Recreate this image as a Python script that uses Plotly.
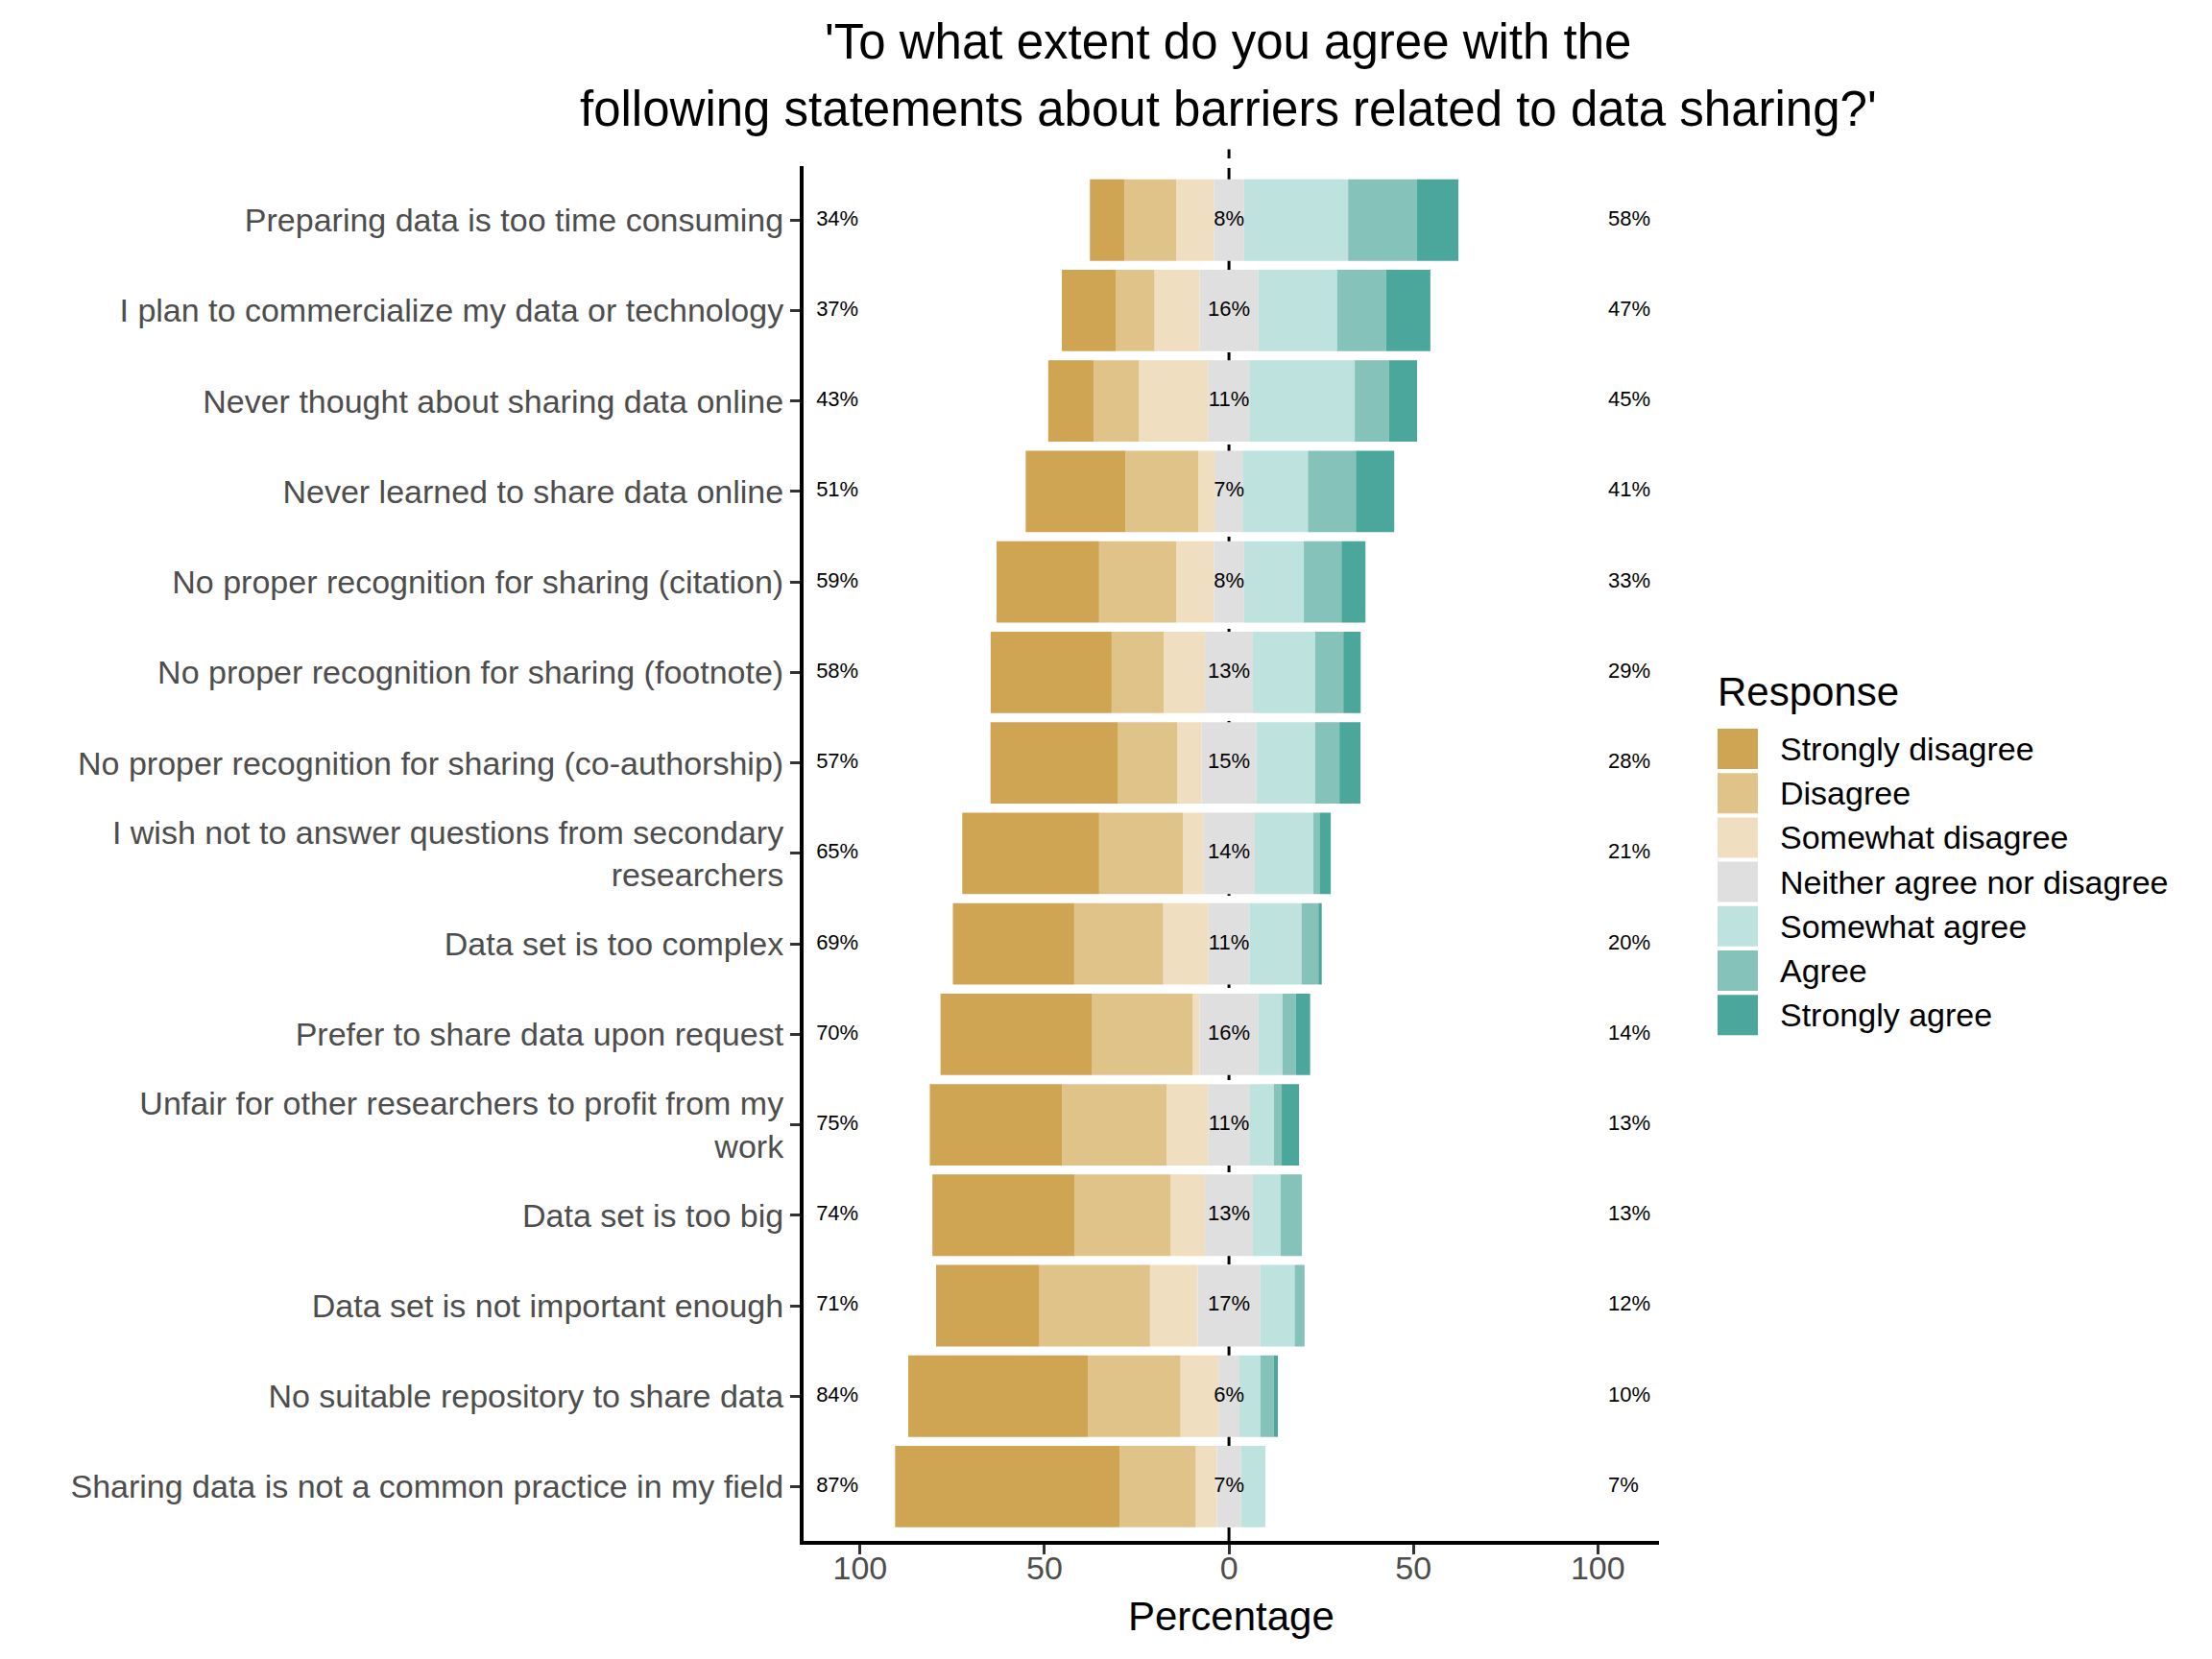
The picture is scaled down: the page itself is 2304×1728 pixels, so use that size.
import plotly.graph_objects as go

# survey statements, top to bottom
statements = [
    "Preparing data is too time consuming",
    "I plan to commercialize my data or technology",
    "Never thought about sharing data online",
    "Never learned to share data online",
    "No proper recognition for sharing (citation)",
    "No proper recognition for sharing (footnote)",
    "No proper recognition for sharing (co-authorship)",
    "I wish not to answer questions from secondary<br>researchers",
    "Data set is too complex",
    "Prefer to share data upon request",
    "Unfair for other researchers to profit from my<br>work",
    "Data set is too big",
    "Data set is not important enough",
    "No suitable repository to share data",
    "Sharing data is not a common practice in my field",
]

# percentages per response level
strongly_disagree = [9.3, 14.7, 12.4, 27.0, 27.8, 32.8, 34.6, 37.1, 32.9, 41.1, 35.9, 38.6, 28.0, 48.7, 60.9]
disagree = [14.1, 10.4, 12.2, 19.8, 20.9, 14.1, 16.0, 22.7, 24.1, 27.3, 28.3, 26.0, 30.0, 25.1, 20.6]
somewhat_disagree = [10.2, 12.2, 18.7, 4.6, 10.2, 11.2, 6.6, 5.5, 12.3, 1.8, 11.2, 9.3, 12.9, 10.3, 5.7]
neutral = [8.2, 16.0, 11.4, 7.4, 8.2, 13.0, 14.9, 14.0, 11.1, 16.0, 11.4, 13.0, 17.0, 5.7, 6.6]
somewhat_agree = [28.2, 21.3, 28.4, 17.7, 16.2, 16.9, 15.9, 15.9, 14.1, 6.5, 6.5, 7.5, 9.3, 5.7, 6.6]
agree = [18.7, 13.3, 9.3, 13.0, 10.2, 7.6, 6.6, 1.8, 4.6, 3.6, 2.1, 5.8, 2.7, 3.6, 0.0]
strongly_agree = [11.2, 12.0, 7.6, 10.4, 6.5, 4.7, 5.7, 2.9, 0.9, 3.9, 4.7, 0.0, 0.0, 1.1, 0.0]

responses = [
    "Strongly disagree", "Disagree", "Somewhat disagree",
    "Neither agree nor disagree", "Somewhat agree", "Agree", "Strongly agree",
]
colors = ["#CFA553", "#E0C388", "#EFDFC0", "#DFDFDF", "#BEE2DE", "#85C2B9", "#4BA79B"]

title_lines = [
    "'To what extent do you agree with the",
    "following statements about barriers related to data sharing?'",
]

W, H = 2304, 1728
FONT = "Liberation Sans, Arial, sans-serif"


def pct(v):
    return f"{int(v + 0.5)}%"


fig = go.Figure()

# neutral centred on zero, the other levels stacked outward from its edges
half = [v / 2 for v in neutral]
fig.add_bar(x=neutral, base=[-h for h in half], y=statements, orientation="h",
            marker_color=colors[3], marker_line_width=0, showlegend=False)

edge = [-h for h in half]
for vals, col in [(somewhat_disagree, colors[2]), (disagree, colors[1]), (strongly_disagree, colors[0])]:
    edge = [e - v for e, v in zip(edge, vals)]
    fig.add_bar(x=vals, base=edge, y=statements, orientation="h",
                marker_color=col, marker_line_width=0, showlegend=False)

edge = list(half)
for vals, col in [(somewhat_agree, colors[4]), (agree, colors[5]), (strongly_agree, colors[6])]:
    fig.add_bar(x=vals, base=edge, y=statements, orientation="h",
                marker_color=col, marker_line_width=0, showlegend=False)
    edge = [e + v for e, v in zip(edge, vals)]

low = [a + b + c for a, b, c in zip(strongly_disagree, disagree, somewhat_disagree)]
high = [a + b + c for a, b, c in zip(somewhat_agree, agree, strongly_agree)]

lab_font = dict(family=FONT, size=22, color="black")
fig.add_scatter(x=[-111.9] * len(statements), y=statements, mode="text",
                text=[pct(v) for v in low], textposition="middle right",
                textfont=lab_font, showlegend=False)
fig.add_scatter(x=[0] * len(statements), y=statements, mode="text",
                text=[pct(v) for v in neutral], textposition="middle center",
                textfont=lab_font, showlegend=False)
fig.add_scatter(x=[102.8] * len(statements), y=statements, mode="text",
                text=[pct(v) for v in high], textposition="middle right",
                textfont=lab_font, showlegend=False)

# dashed zero reference
fig.add_shape(type="line", xref="x", yref="y domain", x0=0, x1=0, y0=0, y1=1.012,
              line=dict(color="black", width=3, dash="14px,10px"), layer="below")

x0, x1 = 828.7 / W, 1719.7 / W
y_bot, y_top = 1 - 1597 / H, 1 - 164.7 / H

ann = [
    dict(text="Percentage", x=(x0 + x1) / 2, y=1 - 1675 / H, xref="paper", yref="paper",
         showarrow=False, xanchor="center", yanchor="middle",
         font=dict(family=FONT, size=42, color="black")),
    dict(text="Response", x=1779 / W, y=1 - 713 / H, xref="paper", yref="paper",
         showarrow=False, xanchor="left", yanchor="middle",
         font=dict(family=FONT, size=42, color="black")),
]
for k, line in enumerate(title_lines):
    ann.append(dict(text=line, x=1271 / W, y=1 - (35 + 71 * k) / H, xref="paper", yref="paper",
                    showarrow=False, xanchor="center", yanchor="middle",
                    font=dict(family=FONT, size=51, color="black")))

# legend built from the response list
for i, (name, col) in enumerate(zip(responses, colors)):
    top = 751 + 46.2 * i
    fig.add_shape(type="rect", xref="paper", yref="paper",
                  x0=1781 / W, x1=1823 / W, y0=1 - top / H, y1=1 - (top + 42) / H,
                  fillcolor=col, line_width=0)
    ann.append(dict(text=name, x=1844 / W, y=1 - (top + 21) / H, xref="paper", yref="paper",
                    showarrow=False, xanchor="left", yanchor="middle",
                    font=dict(family=FONT, size=34, color="black")))

fig.update_layout(
    width=W, height=H, autosize=False,
    margin=dict(l=0, r=0, t=0, b=0),
    paper_bgcolor="white", plot_bgcolor="white",
    barmode="overlay", bargap=0.1,
    font=dict(family=FONT, color="black"),
    annotations=ann,
    showlegend=False,
    xaxis=dict(
        domain=[x0, x1], range=[-115.4, 116.5],
        tickvals=[-100, -50, 0, 50, 100], ticktext=["100", "50", "0", "50", "100"],
        showgrid=False, zeroline=False,
        showline=True, linecolor="black", linewidth=3.5,
        ticks="outside", ticklen=10, tickwidth=3, tickcolor="#333333",
        tickfont=dict(family=FONT, size=34, color="#4D4D4D"),
        ticklabelstandoff=-15,
        automargin=False,
    ),
    yaxis=dict(
        domain=[y_bot, y_top], type="category",
        categoryorder="array", categoryarray=statements,
        range=[len(statements) - 0.4, -0.6],
        showgrid=False, zeroline=False,
        showline=True, linecolor="black", linewidth=3.5,
        ticks="outside", ticklen=10, tickwidth=3, tickcolor="#333333",
        tickfont=dict(family=FONT, size=34, color="#4D4D4D"),
        automargin=False,
    ),
)

fig.write_html("out.html")
